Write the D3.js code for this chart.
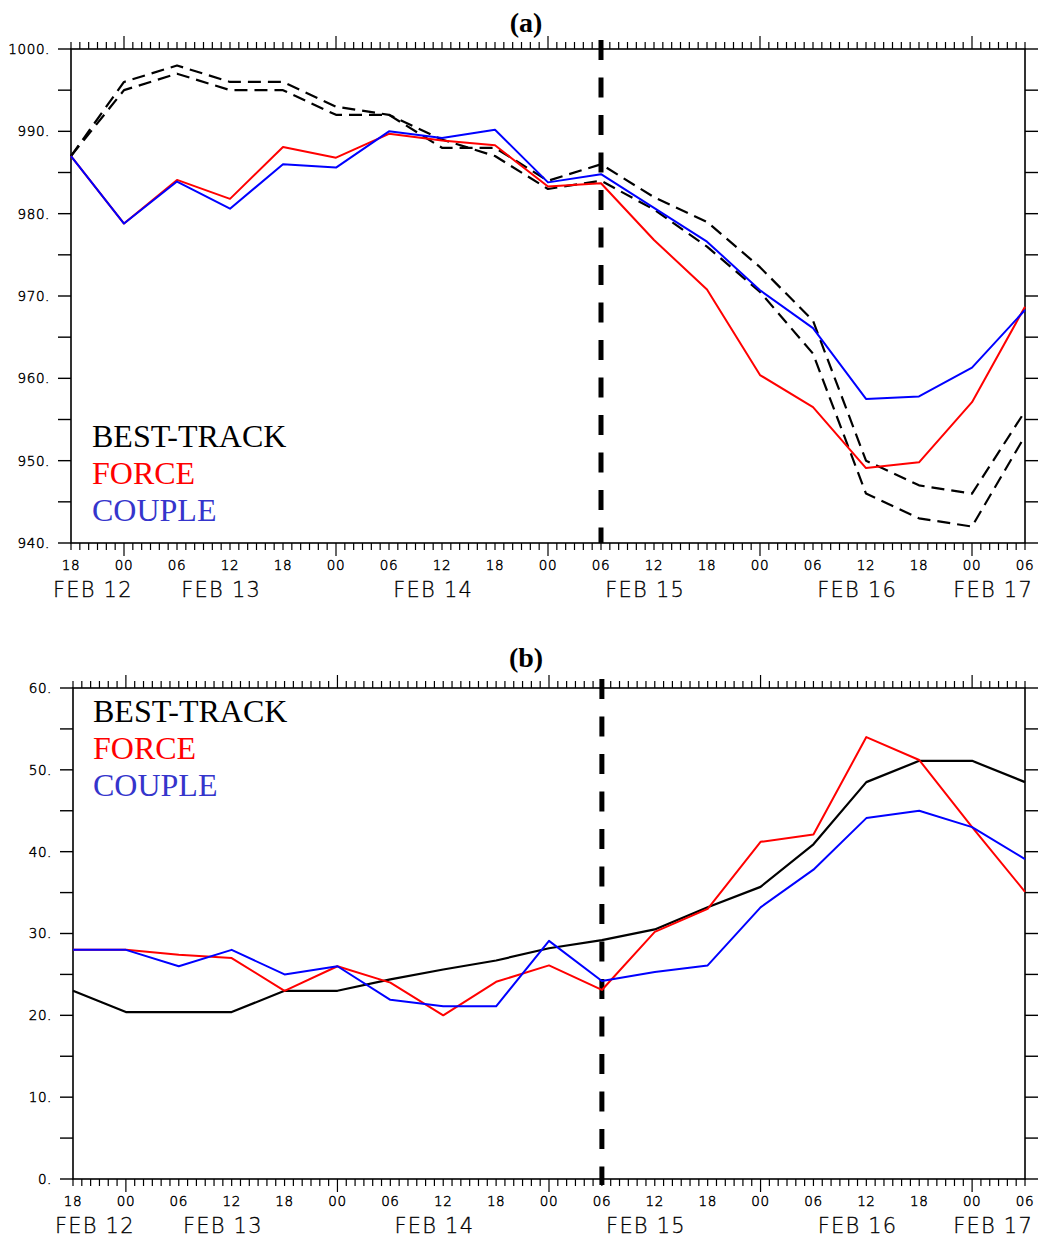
<!DOCTYPE html>
<html>
<head>
<meta charset="utf-8">
<script src="https://cdn.jsdelivr.net/npm/d3@7"></script>
<style>
  html, body { margin: 0; padding: 0; background: #fff; }
  svg { display: block; }
</style>
</head>
<body>
<script>
// ---------- data ----------
// hours after 18 UTC 12 Feb
const hours = [0, 6, 12, 18, 24, 30, 36, 42, 48, 54, 60, 66, 72, 78, 84, 90, 96, 102, 108];
const hourLabels = ["18","00","06","12","18","00","06","12","18","00","06","12","18","00","06","12","18","00","06"];
const dayLabels = ["FEB 12", "FEB 13", "FEB 14", "FEB 15", "FEB 16", "FEB 17"];
const dayStartHours = [-18, 6, 30, 54, 78, 102];
const splitHour = 60;

// (a) minimum sea-level pressure (hPa)
const pressureTrackLow  = [987, 996, 998, 996, 996, 993, 992, 989, 987, 983, 984, 980.5, 976, 970.5, 963, 946, 943, 942, 953];
const pressureTrackHigh = [987, 995, 997, 995, 995, 992, 992, 988, 988, 984, 986, 982, 979, 973.5, 967, 950, 947, 946, 956];
const pressureForce  = [987, 978.8, 984.1, 981.8, 988.1, 986.8, 989.7, 988.9, 988.3, 983.3, 983.7, 976.8, 970.8, 960.4, 956.5, 949.1, 949.8, 957.1, 968.7];
const pressureCouple = [987, 978.8, 983.9, 980.6, 986.0, 985.6, 990.0, 989.2, 990.2, 983.8, 984.8, 980.7, 976.6, 970.7, 966.1, 957.5, 957.8, 961.3, 968.3];
const pressureTicks = [940, 950, 960, 970, 980, 990, 1000];
const pressureMinor = [940, 945, 950, 955, 960, 965, 970, 975, 980, 985, 990, 995, 1000];

// (b) maximum wind speed (m/s)
const windTrack  = [23.0, 20.4, 20.4, 20.4, 23.0, 23.0, 24.4, 25.6, 26.7, 28.2, 29.2, 30.5, 33.2, 35.7, 40.9, 48.5, 51.1, 51.1, 48.5];
const windForce  = [28.0, 28.0, 27.4, 27.0, 23.0, 26.0, 24.0, 20.0, 24.1, 26.1, 23.1, 30.2, 33.0, 41.2, 42.1, 54.0, 51.2, 43.0, 35.1];
const windCouple = [28.0, 28.0, 26.0, 28.0, 25.0, 26.0, 21.9, 21.1, 21.1, 29.1, 24.2, 25.3, 26.1, 33.2, 37.8, 44.1, 45.0, 43.0, 39.1];
const windTicks = [0, 10, 20, 30, 40, 50, 60];
const windMinor = [0, 5, 10, 15, 20, 25, 30, 35, 40, 45, 50, 55, 60];

const legendNames = ["BEST-TRACK", "FORCE", "COUPLE"];
const legendColors = ["#000000", "#ff0000", "#3535cc"];

// ---------- drawing ----------
const W = 1038, H = 1238;
const svg = d3.select("body").append("svg").attr("width", W).attr("height", H);

const tickFont = "'DejaVu Sans', sans-serif";

function panel(opts) {
  const g = svg.append("g");
  const x = d3.scaleLinear().domain([0, 108]).range([opts.left, opts.right]);
  const y = d3.scaleLinear().domain(opts.yDomain).range([opts.bottom, opts.top]);

  // frame
  g.append("rect").attr("x", opts.left).attr("y", opts.top)
    .attr("width", opts.right - opts.left).attr("height", opts.bottom - opts.top)
    .attr("fill", "none").attr("stroke", "#000").attr("stroke-width", 1.6);

  // hourly ticks top & bottom
  const hourly = d3.range(0, 109, 1);
  const dayTicks = dayStartHours.filter(h => h >= 0 && h <= 108);
  g.selectAll(".tb").data(hourly).join("line")
    .attr("x1", d => x(d)).attr("x2", d => x(d))
    .attr("y1", opts.bottom).attr("y2", d => opts.bottom + (dayTicks.includes(d) ? 13 : 7))
    .attr("stroke", "#000").attr("stroke-width", 1.2);
  g.selectAll(".tt").data(hourly).join("line")
    .attr("x1", d => x(d)).attr("x2", d => x(d))
    .attr("y1", opts.top).attr("y2", d => opts.top - (dayTicks.includes(d) ? 13 : 7))
    .attr("stroke", "#000").attr("stroke-width", 1.2);

  // y ticks left & right
  g.selectAll(".yl").data(opts.minor).join("line")
    .attr("x1", opts.left - 13).attr("x2", opts.left)
    .attr("y1", d => y(d)).attr("y2", d => y(d))
    .attr("stroke", "#000").attr("stroke-width", 1.4);
  g.selectAll(".yr").data(opts.minor).join("line")
    .attr("x1", opts.right).attr("x2", opts.right + 13)
    .attr("y1", d => y(d)).attr("y2", d => y(d))
    .attr("stroke", "#000").attr("stroke-width", 1.4);

  // y labels
  g.selectAll(".ylab").data(opts.ticks).join("text")
    .attr("x", opts.left - 21).attr("y", d => y(d))
    .attr("dy", "0.36em")
    .attr("text-anchor", "end")
    .attr("font-family", tickFont).attr("font-size", 13.5).attr("font-weight", 200)
    .attr("fill", "#000").attr("stroke", "#000").attr("stroke-width", 0.45)
    .attr("letter-spacing", 0.6)
    .text(d => d + ".");

  // x labels
  g.selectAll(".xlab").data(hours).join("text")
    .attr("x", (d) => x(d)).attr("y", opts.bottom + 27)
    .attr("text-anchor", "middle")
    .attr("font-family", tickFont).attr("font-size", 13.5).attr("font-weight", 200)
    .attr("fill", "#000").attr("stroke", "#000").attr("stroke-width", 0.45)
    .attr("letter-spacing", 0.6)
    .text((d, i) => hourLabels[i]);

  // date labels
  dayLabels.forEach((lab, i) => {
    const t = g.append("text")
      .attr("y", opts.bottom + 54)
      .attr("font-family", tickFont).attr("font-size", 21).attr("font-weight", 200)
      .attr("fill", "#000").attr("stroke", "#000").attr("stroke-width", 0.3)
      .attr("letter-spacing", 1.2)
      .text(lab);
    const w = t.node().getComputedTextLength();
    let cx = x(dayStartHours[i] + 11);
    let lx = cx - w / 2;
    lx = Math.max(lx, opts.left - 18);
    lx = Math.min(lx, opts.right + 8 - w);
    t.attr("x", lx);
  });

  // vertical dashed line
  g.append("line")
    .attr("x1", x(splitHour)).attr("x2", x(splitHour))
    .attr("y1", opts.top - 9).attr("y2", opts.bottom + opts.vExtra)
    .attr("stroke", "#000").attr("stroke-width", 5)
    .attr("stroke-dasharray", "20,17.5");

  // series
  const line = d3.line().x((d, i) => x(hours[i])).y(d => y(d));
  opts.series.forEach(s => {
    g.append("path").datum(s.values)
      .attr("d", line)
      .attr("fill", "none")
      .attr("stroke", s.color)
      .attr("stroke-width", s.width)
      .attr("stroke-linejoin", "round")
      .attr("stroke-dasharray", s.dash || null);
  });

  // title
  g.append("text")
    .attr("x", 526).attr("y", opts.titleY)
    .attr("text-anchor", "middle")
    .attr("font-family", "'Liberation Serif', 'Times New Roman', serif")
    .attr("font-weight", "bold").attr("font-size", 28)
    .text(opts.title);

  // legend
  legendNames.forEach((n, i) => {
    g.append("text")
      .attr("x", opts.legendX).attr("y", opts.legendY + i * 37)
      .attr("font-family", "'Liberation Serif', 'Times New Roman', serif")
      .attr("font-size", 32)
      .attr("fill", legendColors[i])
      .text(n);
  });
}

panel({
  left: 71, right: 1025, top: 49, bottom: 543,
  yDomain: [940, 1000], ticks: pressureTicks, minor: pressureMinor,
  title: "(a)", titleY: 32, vExtra: 0,
  legendX: 92, legendY: 447,
  series: [
    { values: pressureTrackLow,  color: "#000", width: 2.2, dash: "13,7" },
    { values: pressureTrackHigh, color: "#000", width: 2.2, dash: "13,7" },
    { values: pressureForce,  color: "#ff0000", width: 2 },
    { values: pressureCouple, color: "#0000ff", width: 2 }
  ]
});

panel({
  left: 73, right: 1025, top: 688, bottom: 1179,
  yDomain: [0, 60], ticks: windTicks, minor: windMinor,
  title: "(b)", titleY: 667, vExtra: 6,
  legendX: 93, legendY: 722,
  series: [
    { values: windTrack,  color: "#000", width: 2.2 },
    { values: windForce,  color: "#ff0000", width: 2 },
    { values: windCouple, color: "#0000ff", width: 2 }
  ]
});
</script>
</body>
</html>
